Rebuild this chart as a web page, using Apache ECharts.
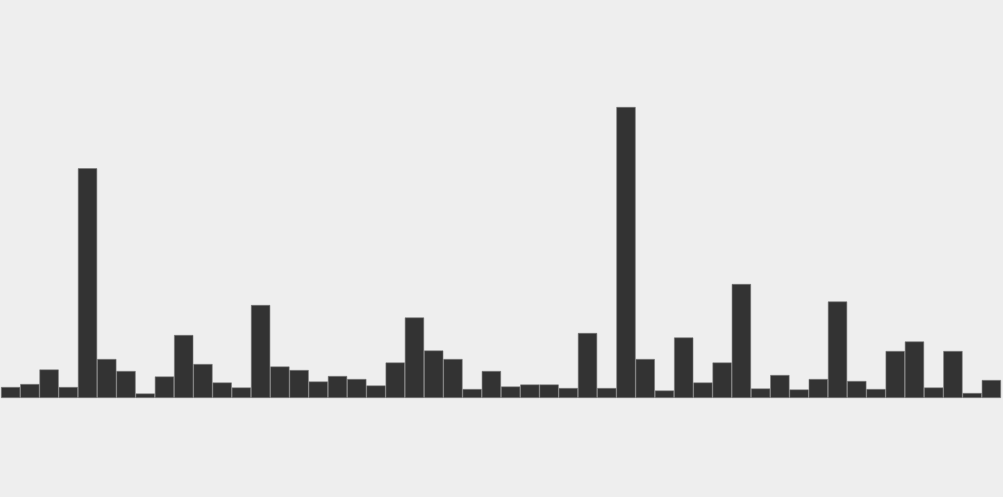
<!DOCTYPE html>
<html>
<head>
<meta charset="utf-8">
<script src="https://cdn.jsdelivr.net/npm/echarts@6/dist/echarts.min.js"></script>
<style>
html,body{margin:0;padding:0;background:#eeeeee;}
#chart{width:1003px;height:497px;}
</style>
</head>
<body>
<div id="chart"></div>
<script>
const categories = Array.from({length: 52}, (_, i) => 'B' + (i + 1));
const values = [
  11, 14, 28.5, 11, 229.7, 39, 27, 4.5, 21.5, 63,
  34, 15.5, 10.5, 93, 31.5, 28, 16.5, 22, 19, 12.5,
  35.5, 80.5, 47.5, 39, 9, 27, 11.5, 13.5, 13.5, 10,
  65, 10, 291, 39, 7.5, 60.5, 15.5, 35.5, 114, 9.5,
  23, 8.5, 19, 96.5, 17, 9, 47, 56.5, 10.5, 47,
  5, 18
];
const yMax = 398;

const chart = echarts.init(document.getElementById('chart'));
chart.setOption({
  backgroundColor: '#eeeeee',
  animation: false,
  grid: { left: 1, right: 2, top: 0, bottom: 99 },
  xAxis: {
    type: 'category',
    data: categories,
    show: false
  },
  yAxis: {
    type: 'value',
    min: 0,
    max: yMax,
    show: false
  },
  series: [{
    type: 'bar',
    data: values,
    barCategoryGap: '0%',
    itemStyle: {
      color: '#333333',
      borderColor: '#777777',
      borderWidth: 0.6
    }
  }]
});
</script>
</body>
</html>
